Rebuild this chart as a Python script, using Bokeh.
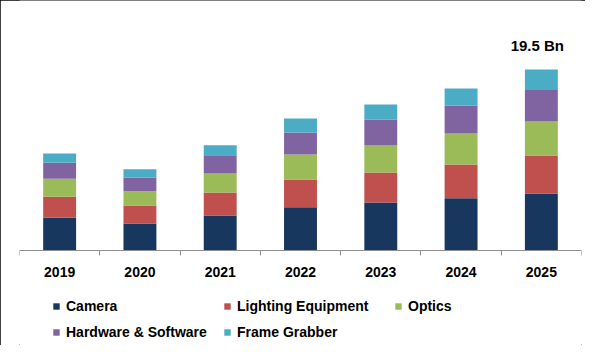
from bokeh.plotting import figure
from bokeh.models import ColumnDataSource, Range1d, LinearAxis, FixedTicker
from bokeh.embed import file_html
from bokeh.resources import INLINE
from bokeh.core.properties import value

years = ["2019", "2020", "2021", "2022", "2023", "2024", "2025"]
series = ["Camera", "Lighting Equipment", "Optics", "Hardware & Software", "Frame Grabber"]
camera   = [3.52, 2.91, 3.77, 4.66, 5.17, 5.63, 6.14]
lighting = [2.26, 1.94, 2.48, 2.98, 3.23, 3.63, 4.09]
optics   = [1.94, 1.54, 2.05, 2.69, 2.91, 3.34, 3.66]
hardware = [1.72, 1.48, 1.97, 2.37, 2.80, 3.02, 3.41]
grabber  = [1.00, 0.89, 1.08, 1.51, 1.62, 1.83, 2.20]
colors = ["#17375E", "#C0504D", "#9BBB59", "#8064A2", "#4BACC6"]

FONT = "Liberation Sans"

n = len(years)
slot = [2 * i + 1 for i in range(n)]          # category centres (2 units per category)
data = {"slot": slot, "year": years}
for name, vals in zip(series, [camera, lighting, optics, hardware, grabber]):
    data[name] = vals
source = ColumnDataSource(data)
totals = [sum(v) for v in zip(camera, lighting, optics, hardware, grabber)]

p = figure(width=585, height=345,
           x_range=Range1d(0, 2 * n),
           y_range=Range1d(-10.235, 26.93),
           x_axis_location=None, y_axis_location=None,
           toolbar_location=None, output_backend="svg",
           min_border_left=19, min_border_right=4,
           min_border_top=0, min_border_bottom=0,
           outline_line_color=None,
           styles={"outline": "1px solid #000000", "outline-offset": "-1px"})
p.grid.visible = False

p.vbar_stack(series, x="slot", width=0.82, color=colors, line_color=None,
             source=source, legend_label=series)

# total label above the last bar
p.text(x=[slot[-1]], y=[totals[-1]], text=[f"{totals[-1]:.1f} Bn"],
       x_offset=-4, y_offset=-24, text_align="center", text_baseline="middle",
       text_font=value(FONT), text_font_style="bold", text_font_size="15px",
       text_color="#000000")

# category axis with boundary ticks
axis = LinearAxis(ticker=FixedTicker(ticks=slot,
                                     minor_ticks=[2 * i for i in range(n + 1)]),
                  major_label_overrides={s: y for s, y in zip(slot, years)},
                  major_tick_line_color=None, major_tick_in=0, major_tick_out=0,
                  minor_tick_in=0, minor_tick_out=5,
                  minor_tick_line_color="#8E8E8E", axis_line_color="#8E8E8E",
                  major_label_standoff=12,
                  major_label_text_font=FONT, major_label_text_font_style="bold",
                  major_label_text_font_size="14px", major_label_text_color="#000000",
                  fixed_location=0)
p.add_layout(axis, "below")

leg = p.legend[0]
leg.orientation = "horizontal"
leg.ncols = 3
leg.location = (33, 2.5)
leg.padding = 0
leg.margin = 0
leg.spacing = 5
leg.border_line_color = None
leg.background_fill_alpha = 0
leg.glyph_width = 8
leg.glyph_height = 8
leg.label_standoff = 6
leg.label_width = 152
leg.label_height = 21
leg.label_text_font = FONT
leg.label_text_font_style = "bold"
leg.label_text_font_size = "14px"
leg.label_text_color = "#000000"

open("out.html", "w").write(file_html(p, INLINE))
